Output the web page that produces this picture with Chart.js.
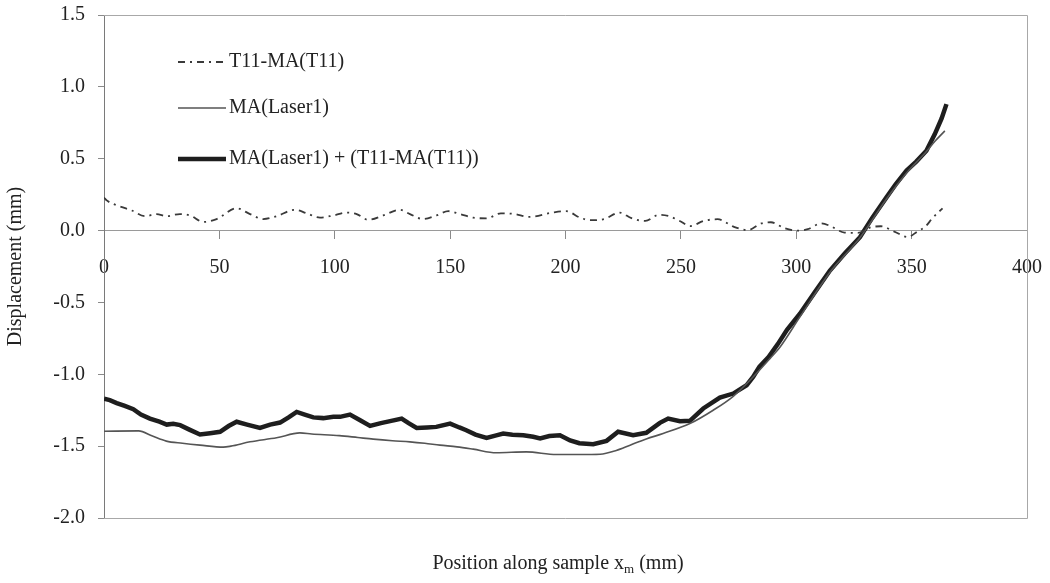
<!DOCTYPE html>
<html>
<head>
<meta charset="utf-8">
<script src="https://cdn.jsdelivr.net/npm/chart.js@4.4.1/dist/chart.umd.min.js"></script>
<style>
  html, body { margin: 0; padding: 0; background: #fff; }
  #wrap { width: 1050px; height: 583px; position: relative; }
</style>
</head>
<body>
<div id="wrap"><canvas id="chart_displacement"></canvas></div>
<script>
// T11-MA(T11)
var tPos = [0, 1.2, 4.8, 12, 17.8, 22.8, 27.1, 32.9, 37.3, 43, 48.8, 57.5, 63.3, 69, 74.8, 82.8, 87.8, 93.6, 99.4, 105.2,
  109.5, 114.5, 121, 128.2, 132.6, 138.3, 144.1, 149.2, 154.2, 160, 165.8, 172, 178, 184, 194.3, 200.3, 206.3, 210.7,
  216.7, 223.4, 228.6, 234.6, 240.5, 245, 249.5, 254, 259.9, 265.9, 273.3, 279, 284.9, 289, 295, 300.7, 305, 310.8,
  315, 320.9, 326.7, 332.4, 336.7, 342.5, 348.3, 352.6, 356, 359, 363.4];
var tVal = [0.23, 0.21, 0.18, 0.14, 0.10, 0.115, 0.10, 0.115, 0.105, 0.06, 0.08, 0.155, 0.115, 0.08, 0.10, 0.145, 0.12,
  0.09, 0.105, 0.125, 0.115, 0.075, 0.105, 0.145, 0.115, 0.08, 0.105, 0.135, 0.115, 0.09, 0.085, 0.12, 0.115, 0.095,
  0.125, 0.135, 0.09, 0.072, 0.08, 0.125, 0.086, 0.067, 0.11, 0.10, 0.067, 0.031, 0.067, 0.079, 0.024, 0.003, 0.05,
  0.058, 0.016, 0.0, 0.01, 0.05, 0.03, -0.014, -0.016, 0.023, 0.03, -0.007, -0.045, -0.005, 0.028, 0.086, 0.155];

// MA(Laser1)
var lPos = [0, 15, 21, 27, 34, 41.6, 51.7, 55, 63.3, 74.8, 84.9, 90, 102, 110, 116.7, 125, 132.6, 139, 145.6, 153, 160,
  170, 183, 196, 206, 215, 222, 228, 235, 242.3, 253.9, 264, 272.7, 281.3, 288.6, 293, 301.6, 314.6, 327.6, 339.1,
  347.8, 356.4, 360, 364.4];
var lVal = [-1.396, -1.394, -1.43, -1.465, -1.48, -1.493, -1.507, -1.50, -1.47, -1.442, -1.408, -1.415, -1.427, -1.44,
  -1.451, -1.462, -1.47, -1.48, -1.493, -1.505, -1.521, -1.546, -1.54, -1.558, -1.558, -1.556, -1.53, -1.493, -1.45,
  -1.412, -1.343, -1.25, -1.153, -1.019, -0.891, -0.81, -0.60, -0.29, -0.05, 0.22, 0.40, 0.55, 0.62, 0.694];

// MA(Laser1) + (T11-MA(T11))
var sPos = [0, 2.5, 5.5, 9, 12.7, 16, 19.9, 24, 27.2, 30, 33, 37, 41.6, 46, 50.3, 54, 57.5, 62, 67.6, 72, 76.3, 80,
  83.5, 87, 90.7, 95, 99.4, 102.3, 106.6, 111, 115.3, 120, 124, 129, 132, 135.5, 140, 144, 150, 154, 157, 161, 165.8,
  170, 173, 177, 181.7, 186, 189, 193, 197.6, 202, 206, 212, 217.8, 222.8, 229.3, 235, 240.9, 244.5, 249.6, 253.9,
  259.7, 266.9, 272.7, 278.5, 281.3, 284, 288, 292, 296, 301.6, 308, 314.6, 321, 327.6, 333, 339.1, 343, 347.8, 352,
  356.4, 360, 363, 365.1];
var sVal = [-1.17, -1.18, -1.20, -1.22, -1.243, -1.28, -1.308, -1.33, -1.35, -1.345, -1.354, -1.385, -1.419, -1.41,
  -1.40, -1.36, -1.33, -1.35, -1.373, -1.35, -1.336, -1.30, -1.262, -1.28, -1.30, -1.305, -1.296, -1.296, -1.28, -1.32,
  -1.359, -1.34, -1.326, -1.308, -1.34, -1.373, -1.37, -1.366, -1.343, -1.37, -1.389, -1.42, -1.442, -1.425, -1.412,
  -1.42, -1.424, -1.435, -1.447, -1.43, -1.424, -1.46, -1.48, -1.486, -1.463, -1.40, -1.424, -1.407, -1.338, -1.308,
  -1.326, -1.324, -1.238, -1.162, -1.134, -1.076, -1.019, -0.949, -0.88, -0.79, -0.69, -0.579, -0.43, -0.278, -0.16,
  -0.046, 0.09, 0.231, 0.32, 0.417, 0.48, 0.556, 0.67, 0.78, 0.88];

var seriesNames = ['T11-MA(T11)', 'MA(Laser1)', 'MA(Laser1) + (T11-MA(T11))'];
var yTicks = [-2.0, -1.5, -1.0, -0.5, 0.0, 0.5, 1.0, 1.5];
var xTicks = [0, 50, 100, 150, 200, 250, 300, 350, 400];

function pts(xs, ys) {
  return xs.map(function (x, i) { return { x: x, y: ys[i] }; });
}

var serif = "'Liberation Serif', 'Times New Roman', serif";

var chart_displacement = new Chart(document.getElementById('chart_displacement'), {
    type: 'line',
    data: {
        datasets: [
            {
                label: seriesNames[0],
                data: pts(tPos, tVal),
                borderColor: '#3a3a3a',
                borderWidth: 1.8,
                borderDash: [7, 5, 2, 5],
                pointRadius: 0,
                cubicInterpolationMode: 'monotone'
            },
            {
                label: seriesNames[1],
                data: pts(lPos, lVal),
                borderColor: '#555555',
                borderWidth: 1.6,
                pointRadius: 0,
                cubicInterpolationMode: 'monotone'
            },
            {
                label: seriesNames[2],
                data: pts(sPos, sVal),
                borderColor: '#1e1e1e',
                borderWidth: 4.5,
                pointRadius: 0,
                tension: 0
            }
        ]
    },
    options: {
        animation: false,
        responsive: true,
        maintainAspectRatio: false,
        layout: {
            padding: { left: 0, top: 15, right: 23, bottom: 65 }
        },
        plugins: {
            legend: { display: false },
            tooltip: { enabled: false }
        },
        scales: {
            x: {
                type: 'linear',
                position: { y: 0 },
                min: 0,
                max: 400,
                afterBuildTicks: function (scale) {
                    scale.ticks = xTicks.map(function (v) { return { value: v }; });
                },
                afterFit: function (scale) {
                    scale.paddingLeft = 0;
                    scale.paddingRight = 0;
                },
                grid: {
                    drawOnChartArea: false,
                    color: '#8a8a8a',
                    tickLength: 8
                },
                border: { color: '#9a9a9a', width: 1 },
                ticks: {
                    color: '#222',
                    padding: 17,
                    maxRotation: 0,
                    autoSkip: false,
                    font: { family: serif, size: 20 }
                }
            },
            y: {
                type: 'linear',
                min: -2,
                max: 1.5,
                afterBuildTicks: function (scale) {
                    scale.ticks = yTicks.map(function (v) { return { value: v }; });
                },
                afterFit: function (scale) {
                    scale.width = 104;
                    scale.paddingTop = 0;
                    scale.paddingBottom = 0;
                },
                grid: {
                    drawOnChartArea: false,
                    color: '#8a8a8a',
                    tickLength: 6
                },
                border: { color: '#7a7a7a', width: 1 },
                ticks: {
                    color: '#222',
                    padding: 13,
                    autoSkip: false,
                    font: { family: serif, size: 20 },
                    callback: function (v) { return Number(v).toFixed(1); }
                },
                title: {
                    display: true,
                    text: 'Displacement (mm)',
                    color: '#222',
                    padding: { top: 4, bottom: 0 },
                    font: { family: serif, size: 20 }
                }
            }
        }
    },
    plugins: [{
        id: 'customPlugin',
        beforeDraw: function (chart) {
            var ctx = chart.ctx;
            ctx.save();
            ctx.fillStyle = 'white';
            ctx.fillRect(0, 0, chart.width, chart.height);
            ctx.restore();
        },
        afterDraw: function (chart) {
            var ctx = chart.ctx;
            var a = chart.chartArea;
            ctx.save();
            // frame (top, right, bottom)
            ctx.strokeStyle = '#a8a8a8';
            ctx.lineWidth = 1;
            ctx.beginPath();
            ctx.moveTo(a.left, a.top + 0.5);
            ctx.lineTo(a.right + 0.5, a.top + 0.5);
            ctx.lineTo(a.right + 0.5, a.bottom + 0.5);
            ctx.lineTo(a.left, a.bottom + 0.5);
            ctx.stroke();

            // legend
            var rows = [a.top + 47, a.top + 93, a.top + 144];
            var x0 = a.left + 74, x1 = a.left + 122;
            ctx.font = '20px ' + serif;
            ctx.textBaseline = 'middle';
            ctx.textAlign = 'left';
            chart.data.datasets.forEach(function (ds, i) {
                ctx.strokeStyle = ds.borderColor;
                ctx.lineWidth = ds.borderWidth;
                ctx.setLineDash(ds.borderDash || []);
                ctx.beginPath();
                ctx.moveTo(x0, rows[i]);
                ctx.lineTo(x1, rows[i]);
                ctx.stroke();
                ctx.setLineDash([]);
                ctx.fillStyle = '#222';
                ctx.fillText(ds.label, x1 + 3, rows[i]);
            });

            // x axis title with subscript
            var main1 = 'Position along sample x';
            var sub = 'm';
            var main2 = ' (mm)';
            ctx.font = '20px ' + serif;
            var w1 = ctx.measureText(main1).width;
            var w3 = ctx.measureText(main2).width;
            ctx.font = '13px ' + serif;
            var w2 = ctx.measureText(sub).width;
            var tx = 558 - (w1 + w2 + w3) / 2;
            var ty = 563;
            ctx.fillStyle = '#222';
            ctx.textBaseline = 'alphabetic';
            ctx.font = '20px ' + serif;
            ctx.fillText(main1, tx, ty + 6);
            ctx.font = '13px ' + serif;
            ctx.fillText(sub, tx + w1, ty + 10);
            ctx.font = '20px ' + serif;
            ctx.fillText(main2, tx + w1 + w2, ty + 6);
            ctx.restore();
        }
    }]
});
</script>
</body>
</html>
